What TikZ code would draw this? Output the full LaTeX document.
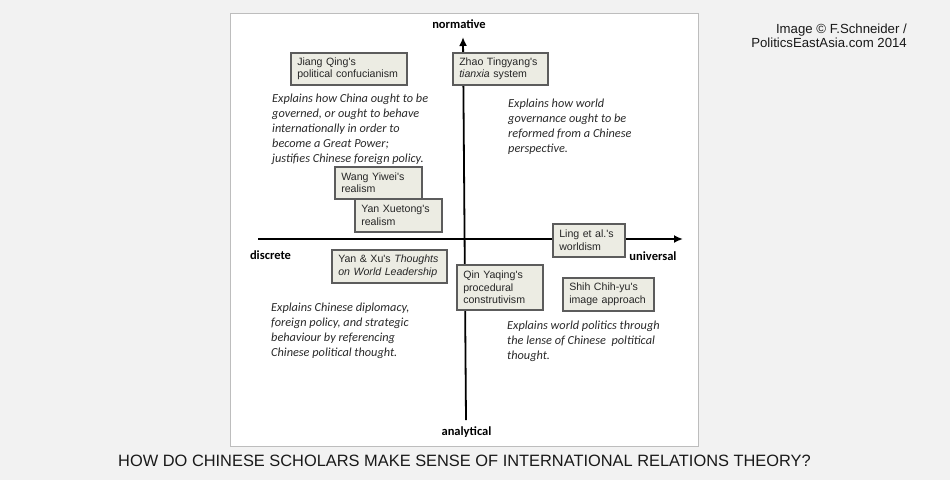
\documentclass[tikz,border=0pt]{standalone}
\usepackage{fontspec}
\usepackage{graphicx}
\usetikzlibrary{arrows.meta}
\newfontfamily\arialfont{Liberation Sans}
\newfontfamily\calfont{Carlito}
\definecolor{pagegray}{HTML}{F2F2F2}
\definecolor{panelline}{HTML}{BDBDBD}
\definecolor{boxfill}{HTML}{ECECE3}
\definecolor{boxline}{HTML}{5C5C5C}
\definecolor{notegray}{HTML}{2A2A2A}
\begin{document}
\begin{tikzpicture}[x=1pt,y=-1pt,
  scholar/.style={draw=boxline,fill=boxfill,line width=1.5pt,anchor=north west,align=left,
    inner xsep=6.5pt,inner ysep=0pt,font=\arialfont\fontsize{10.6}{12.7}\selectfont,text=black!85},
  note/.style={anchor=north west,align=left,inner sep=0pt,
    font=\calfont\itshape\fontsize{12.3}{15}\selectfont,text=notegray},
  axislabel/.style={font=\calfont\bfseries\fontsize{12.5}{14}\selectfont,inner sep=0pt},
  axis/.style={line width=1.8pt,-{Latex[length=9pt,width=8pt]}}]
% page and white panel
\fill[pagegray] (0,0) rectangle (950,480);
\useasboundingbox (0,0) rectangle (950,480);
\filldraw[fill=white,draw=panelline,line width=1pt] (230,13) rectangle (698,446);
% Axes
\coordinate (west) at (258,239);
\coordinate (east) at (683,239);
\coordinate (south) at (466,420);
\coordinate (north) at (463,37);
\draw[axis] (west) -- (east);
\draw[axis] (south) -- (north);
\node[axislabel] (normative) at (459,24) {normative};
\node[axislabel] (analytical) at (466.5,432) {analytical};
\node[axislabel] (discrete) at (270.5,255) {discrete};
\node[axislabel] (universal) at (653,256) {universal};
% Scholars (boxes)
\node[scholar,minimum width=116,minimum height=32,text width=103] (jiang) at (290,52) {Jiang Qing's\\political confucianism};
\node[scholar,minimum width=95,minimum height=32,text width=82] (zhao) at (452,52) {Zhao Tingyang's\\\textit{tianxia} system};
\node[scholar,minimum width=87,minimum height=32,text width=74] (wang) at (334,166) {Wang Yiwei's\\realism};
\node[scholar,minimum width=87,minimum height=33,text width=74] (yanxt) at (354,198) {Yan Xuetong's\\realism};
\node[scholar,minimum width=72,minimum height=33,text width=59] (ling) at (552,223) {Ling et al.'s\\worldism};
\node[scholar,minimum width=115,minimum height=33,text width=102] (yanxu) at (331,249) {Yan \& Xu's \textit{Thoughts}\\\textit{on World Leadership}};
\node[scholar,minimum width=86,minimum height=45,text width=73] (qin) at (456,264) {Qin Yaqing's\\procedural\\construtivism};
\node[scholar,minimum width=91,minimum height=33,text width=78] (shih) at (562,277) {Shih Chih-yu's\\image approach};
% Quadrant notes
\node[note] (ntl) at (272,94) {Explains how China ought to be\\governed, or ought to behave\\internationally in order to\\become a Great Power;\\justifies Chinese foreign policy.};
\node[note] (ntr) at (508,99) {Explains how world\\governance ought to be\\reformed from a Chinese\\perspective.};
\node[note] (nbl) at (271,302.5) {Explains Chinese diplomacy,\\foreign policy, and strategic\\behaviour by referencing\\Chinese political thought.};
\node[note] (nbr) at (507,320.5) {Explains world politics through\\the lense of Chinese\ \ poltitical\\thought.};
% Credit and title
\node[anchor=north east,align=right,inner sep=0pt,font=\arialfont\fontsize{13.2}{13.7}\selectfont,text=black!90] (credit) at (907,24) {Image \textcopyright{} F.Schneider /\\PoliticsEastAsia.com 2014};
\node[inner sep=0pt,font=\arialfont\fontsize{16.4}{18}\selectfont,text=black!90] (title) at (464.5,461) {HOW DO CHINESE SCHOLARS MAKE SENSE OF INTERNATIONAL RELATIONS THEORY?};
\end{tikzpicture}
\end{document}
